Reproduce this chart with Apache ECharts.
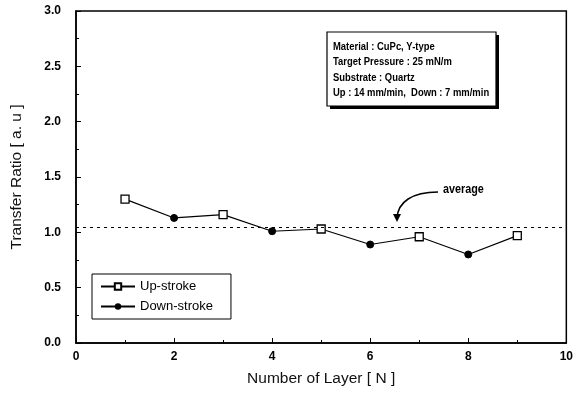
<!DOCTYPE html>
<html><head><meta charset="utf-8">
<script src="https://cdn.jsdelivr.net/npm/echarts@6/dist/echarts.min.js"></script>
<style>html,body{margin:0;padding:0;background:#fff}#c{width:576px;height:399px}</style>
</head><body><div id="c"></div>
<script>
const layers = [1, 2, 3, 4, 5, 6, 7, 8, 9];
const ratios = [1.30, 1.13, 1.16, 1.01, 1.03, 0.89, 0.96, 0.80, 0.97];
const strokeType = ['up', 'down', 'up', 'down', 'up', 'down', 'up', 'down', 'up'];
const averageValue = 1.05;
const infoLines = ['Material : CuPc, Y-type', 'Target Pressure : 25 mN/m', 'Substrate : Quartz', 'Up : 14 mm/min,  Down : 7 mm/min'];

const allPts = layers.map((x, i) => [x, ratios[i]]);
const upPts = layers.map((x, i) => strokeType[i] === 'up' ? [x, ratios[i]] : [x, null]);
const downPts = layers.map((x, i) => strokeType[i] === 'down' ? [x, ratios[i]] : [x, null]);

const chart = echarts.init(document.getElementById('c'));
const font = 'Liberation Sans';
chart.setOption({
  animation: false,
  grid: { left: 76, right: 8, top: 11, bottom: 56, show: true, borderColor: '#000', borderWidth: 1.5 },
  xAxis: {
    type: 'value', min: 0, max: 10, interval: 2,
    name: 'Number of Layer [ N ]', nameLocation: 'middle', nameGap: 28,
    nameTextStyle: { fontFamily: font, fontSize: 15.5, color: '#111' },
    axisLine: { lineStyle: { color: '#000', width: 1.5 } },
    axisTick: { inside: true, length: 5, lineStyle: { color: '#000' } },
    minorTick: { show: true, splitNumber: 2, length: 3, lineStyle: { color: '#000' } },
    splitLine: { show: false },
    axisLabel: { fontFamily: font, fontWeight: 'bold', fontSize: 12, color: '#000', margin: 8 }
  },
  yAxis: {
    type: 'value', min: 0, max: 3, interval: 0.5,
    name: 'Transfer Ratio [ a. u ]', nameLocation: 'middle', nameGap: 51,
    nameTextStyle: { fontFamily: font, fontSize: 15.5, color: '#111' },
    axisLine: { show: true, lineStyle: { color: '#000', width: 1.5 } },
    axisTick: { show: true, inside: true, length: 5, lineStyle: { color: '#000' } },
    minorTick: { show: true, splitNumber: 2, length: 3, lineStyle: { color: '#000' } },
    splitLine: { show: false },
    axisLabel: { fontFamily: font, fontWeight: 'bold', fontSize: 12, color: '#000', margin: 15,
      formatter: v => v.toFixed(1) }
  },
  legend: {
    left: 92, top: 274, orient: 'vertical', itemGap: 7, itemWidth: 34, itemHeight: 8,
    padding: [6, 18, 6, 8],
    borderColor: '#000', borderWidth: 1,
    textStyle: { fontFamily: font, fontSize: 13, color: '#000' },
    data: ['Up-stroke', 'Down-stroke']
  },
  series: [
    {
      name: 'trace', type: 'line', data: allPts, symbol: 'none',
      lineStyle: { color: '#000', width: 1.2 }, z: 2,
      markLine: {
        silent: true, symbol: 'none', label: { show: false },
        lineStyle: { type: [3, 4], color: '#000', width: 1 },
        data: [{ yAxis: averageValue }]
      }
    },
    {
      name: 'Up-stroke', type: 'line', data: upPts, connectNulls: false,
      symbol: 'rect', symbolSize: 8, showAllSymbol: true,
      itemStyle: { color: '#fff', borderColor: '#000', borderWidth: 1.3 },
      lineStyle: { color: '#000', width: 1.2 }, z: 3
    },
    {
      name: 'Down-stroke', type: 'line', data: downPts, connectNulls: false,
      symbol: 'circle', symbolSize: 7, showAllSymbol: true,
      itemStyle: { color: '#000', borderColor: '#000' },
      lineStyle: { color: '#000', width: 1.2 }, z: 3
    }
  ],
  graphic: [
    { type: 'rect', shape: { x: 330, y: 35, width: 169, height: 74 }, style: { fill: '#000' }, z: 5 },
    { type: 'rect', shape: { x: 327, y: 32, width: 169, height: 74 }, style: { fill: '#fff', stroke: '#000', lineWidth: 1.2 }, z: 6 },
    ...infoLines.map((t, i) => ({
      type: 'text', x: 333, y: 41 + i * 15.3, scaleX: 0.82, z: 7,
      style: { text: t, fontFamily: font, fontSize: 11.5, fontWeight: 'bold', fill: '#000' }
    })),
    { type: 'text', x: 443, y: 184, scaleX: 0.9, z: 7,
      style: { text: 'average', fontFamily: font, fontSize: 12, fontWeight: 'bold', fill: '#000' } },
    { type: 'bezierCurve', z: 7,
      shape: { x1: 438, y1: 192, x2: 397, y2: 218, cpx1: 412, cpy1: 192, cpx2: 398, cpy2: 202 },
      style: { stroke: '#000', lineWidth: 1.5, fill: null } },
    { type: 'polygon', z: 7, shape: { points: [[393, 214], [401, 214], [397, 222]] }, style: { fill: '#000' } }
  ]
});
</script></body></html>
